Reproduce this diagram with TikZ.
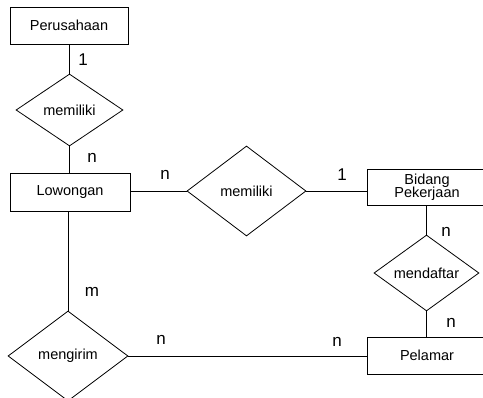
\documentclass[tikz,border=0pt]{standalone}
\usepackage{fontspec}
\setmainfont{Liberation Sans}
\usetikzlibrary{shapes.geometric,positioning}
\newcommand{\boxfont}{\fontsize{14.5}{16}\selectfont}
\newcommand{\kardfont}{\fontsize{17}{19}\selectfont}

\begin{document}
\begin{tikzpicture}[
    x=1pt,y=-1pt,
    entitas/.style={rectangle,draw,line width=0.8pt,align=center,minimum width=120pt,minimum height=37pt,inner sep=1pt,font=\boxfont},
    relasi/.style={diamond,draw,line width=0.8pt,inner sep=0pt,font=\boxfont},
    kard/.style={anchor=base,inner sep=0pt,font=\kardfont},
    garis/.style={line width=0.8pt}]
    \useasboundingbox (0,0) rectangle (483,398);
    % entitas
    \node[entitas,minimum width=118pt] (perusahaan) at (69,25.5) {Perusahaan};
    \node[entitas,minimum height=38pt] (lowongan) at (70,192) {Lowongan};
    \node[entitas,minimum height=36pt] (bidang) at (427,187) {Bidang\\[-3pt]Pekerjaan};
    \node[entitas] (pelamar) at (427,355.5) {Pelamar};
    % relasi
    \node[relasi,minimum width=107pt,minimum height=72pt] (memiliki1) at (69.5,110) {memiliki};
    \node[relasi,minimum width=119pt,minimum height=90pt] (memiliki2) at (246.5,191) {memiliki};
    \node[relasi,minimum width=105pt,minimum height=74pt] (mendaftar) at (426.5,273) {mendaftar};
    \node[relasi,minimum width=120pt,minimum height=90pt] (mengirim) at (68,356) {mengirim};
    % garis penghubung
    \draw[garis] (perusahaan.south -| memiliki1.north) -- (memiliki1.north);
    \draw[garis] (memiliki1.south) -- (memiliki1.south |- lowongan.north);
    \draw[garis] (lowongan.east |- memiliki2.west) -- (memiliki2.west);
    \draw[garis] (memiliki2.east) -- (memiliki2.east -| bidang.west);
    \draw[garis] (bidang.south -| mendaftar.north) -- (mendaftar.north);
    \draw[garis] (mendaftar.south) -- (mendaftar.south |- pelamar.north);
    \draw[garis] (lowongan.south -| mengirim.north) -- (mengirim.north);
    \draw[garis] (mengirim.east) -- (mengirim.east -| pelamar.west);
    % kardinalitas
    \node[kard] (k1) at (83,66) {1};
    \node[kard] (k2) at (92,163) {n};
    \node[kard] (k3) at (165,180) {n};
    \node[kard] (k4) at (342,181) {1};
    \node[kard] (k5) at (446,237) {n};
    \node[kard] (k6) at (451,328) {n};
    \node[kard] (k7) at (92,297) {m};
    \node[kard] (k8) at (161,345) {n};
    \node[kard] (k9) at (337,347) {n};
\end{tikzpicture}
\end{document}
